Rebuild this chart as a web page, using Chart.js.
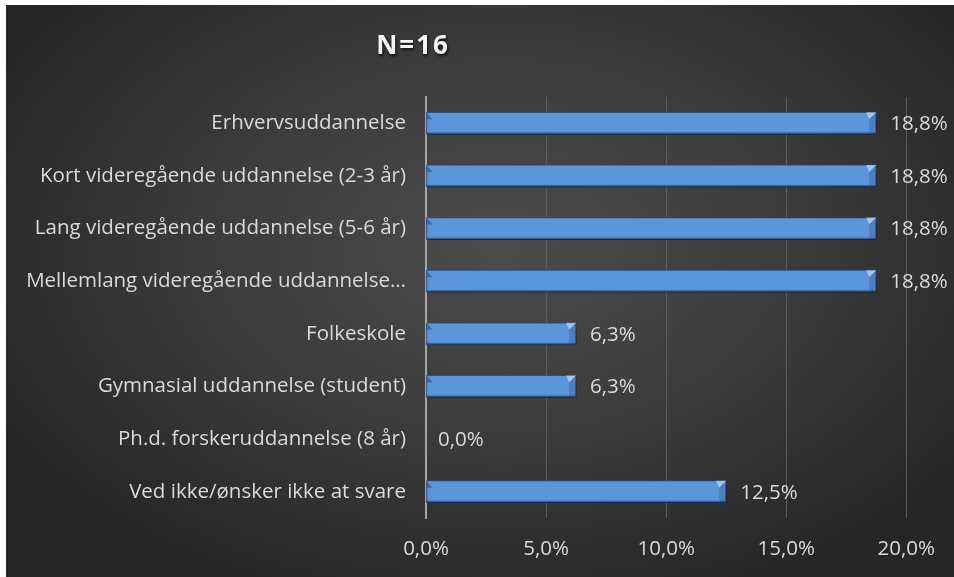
<!DOCTYPE html>
<html>
<head>
<meta charset="utf-8">
<script src="https://cdn.jsdelivr.net/npm/chart.js@4"></script>
<style>
  html, body { margin: 0; padding: 0; background: #fff; }
  #wrap {
    position: absolute; left: 6px; top: 5px; width: 948px; height: 572px;
    background: radial-gradient(ellipse 60% 65% at 52% 42%, #4c4c4c 0%, #3a3a3a 55%, #262626 100%);
  }
  canvas { display: block; }
</style>
</head>
<body>
<div id="wrap"><canvas id="chart" width="948" height="572"></canvas></div>
<script>
// ---- data ----
var categories = [
    'Erhvervsuddannelse',
    'Kort videregående uddannelse (2-3 år)',
    'Lang videregående uddannelse (5-6 år)',
    'Mellemlang videregående uddannelse…',
    'Folkeskole',
    'Gymnasial uddannelse (student)',
    'Ph.d. forskeruddannelse (8 år)',
    'Ved ikke/ønsker ikke at svare'
];
var shares = [18.75, 18.75, 18.75, 18.75, 6.25, 6.25, 0, 12.5];
var xTicks = [0, 5, 10, 15, 20];
var titleText = 'N=16';

var FONT = '"Open Sans", Calibri, sans-serif';
var FSIZE = 20.5;
var TEXT = '#dadada';

function pct(v) {
    return v.toFixed(1).replace('.', ',') + '%';
}

// vertical blue gradient for each bar, based on its own top/bottom
function barFill(ctx) {
    var el = ctx.element;
    var c = ctx.chart.ctx;
    if (!el || el.y === undefined) return '#5b95da';
    var h = el.height || 22;
    var top = el.y - h / 2, bot = el.y + h / 2;
    var g = c.createLinearGradient(0, top, 0, bot);
    g.addColorStop(0, '#b4d5f7');
    g.addColorStop(0.12, '#8dbcef');
    g.addColorStop(0.35, '#6ea5e4');
    g.addColorStop(0.7, '#5590d6');
    g.addColorStop(1, '#3e70b2');
    return g;
}

// soft drop shadow under the bars
var barShadow = {
    id: 'barShadow',
    beforeDatasetDraw: function (chart) {
        var c = chart.ctx;
        c.save();
        c.shadowColor = 'rgba(0,0,0,0.7)';
        c.shadowBlur = 5;
        c.shadowOffsetX = 2;
        c.shadowOffsetY = 3;
    },
    afterDatasetDraw: function (chart) {
        chart.ctx.restore();
    }
};

// bevelled ends + value labels
var barDecor = {
    id: 'barDecor',
    afterDatasetsDraw: function (chart) {
        var c = chart.ctx;
        var meta = chart.getDatasetMeta(0);
        var x0 = chart.scales.x.getPixelForValue(0);
        meta.data.forEach(function (bar, i) {
            var v = shares[i];
            var h = bar.height;
            var top = bar.y - h / 2, bot = bar.y + h / 2;
            if (v > 0) {
                var b = 7;
                c.save();
                // left end: small dark corner
                c.fillStyle = 'rgba(40,75,130,0.55)';
                c.beginPath();
                c.moveTo(x0, top); c.lineTo(x0 + b, top + b); c.lineTo(x0, top + b);
                c.closePath(); c.fill();
                // right end: light top corner, then a slightly darker end face
                c.fillStyle = 'rgba(215,232,250,0.6)';
                c.beginPath();
                c.moveTo(bar.x, top); c.lineTo(bar.x - b, top + b); c.lineTo(bar.x - b - 3, top);
                c.closePath(); c.fill();
                c.fillStyle = 'rgba(45,85,145,0.35)';
                c.beginPath();
                c.moveTo(bar.x, top); c.lineTo(bar.x - b, top + b); c.lineTo(bar.x - b, bot - 2); c.lineTo(bar.x, bot);
                c.closePath(); c.fill();
                // bottom dark edge
                c.fillStyle = 'rgba(30,55,100,0.55)';
                c.fillRect(x0, bot - 2, bar.x - x0, 2);
                c.restore();
            }
            c.save();
            c.font = FSIZE + 'px ' + FONT;
            c.fillStyle = TEXT;
            c.textAlign = 'left';
            c.textBaseline = 'middle';
            c.fillText(pct(v), bar.x + (v > 0 ? 14 : 12), bar.y + 1);
            c.restore();
        });
    }
};

// chart heading
var heading = {
    id: 'heading',
    afterDraw: function (chart) {
        var c = chart.ctx;
        c.save();
        c.font = 'bold 26px ' + FONT;
        c.letterSpacing = '2px';
        c.fillStyle = '#f5f5f5';
        c.shadowColor = 'rgba(0,0,0,0.7)';
        c.shadowOffsetX = 1;
        c.shadowOffsetY = 2;
        c.shadowBlur = 3;
        c.textAlign = 'center';
        c.textBaseline = 'middle';
        c.fillText(titleText, 407, 42);
        c.restore();
    }
};

new Chart(document.getElementById('chart').getContext('2d'), {
    type: 'bar',
    data: {
        labels: categories,
        datasets: [{
            data: shares,
            backgroundColor: barFill,
            borderColor: '#2f5488',
            borderWidth: 1,
            borderSkipped: false,
            barThickness: 22
        }]
    },
    options: {
        indexAxis: 'y',
        responsive: false,
        animation: false,
        layout: { padding: { top: 92, right: 47, left: 0, bottom: 0 } },
        plugins: {
            legend: { display: false },
            tooltip: { enabled: false },
            title: { display: false }
        },
        scales: {
            x: {
                min: 0,
                max: 20,
                afterBuildTicks: function (axis) {
                    axis.ticks = xTicks.map(function (v) { return { value: v }; });
                },
                afterFit: function (axis) { axis.height = 59; },
                grid: {
                    color: function (ctx) { return ctx.tick && ctx.tick.value === 0 ? 'rgba(0,0,0,0)' : '#5d5d5d'; },
                    lineWidth: 1,
                    drawTicks: false
                },
                border: { display: false },
                ticks: {
                    color: TEXT,
                    font: { family: FONT, size: FSIZE },
                    padding: 19,
                    callback: function (v) { return pct(v); }
                }
            },
            y: {
                afterFit: function (axis) { axis.width = 420; },
                grid: { display: false, drawTicks: false },
                border: { display: true, color: '#a6a6a6', width: 2 },
                ticks: {
                    color: TEXT,
                    font: { family: FONT, size: FSIZE },
                    padding: 20,
                    autoSkip: false
                }
            }
        }
    },
    plugins: [barShadow, barDecor, heading]
});
</script>
</body>
</html>
